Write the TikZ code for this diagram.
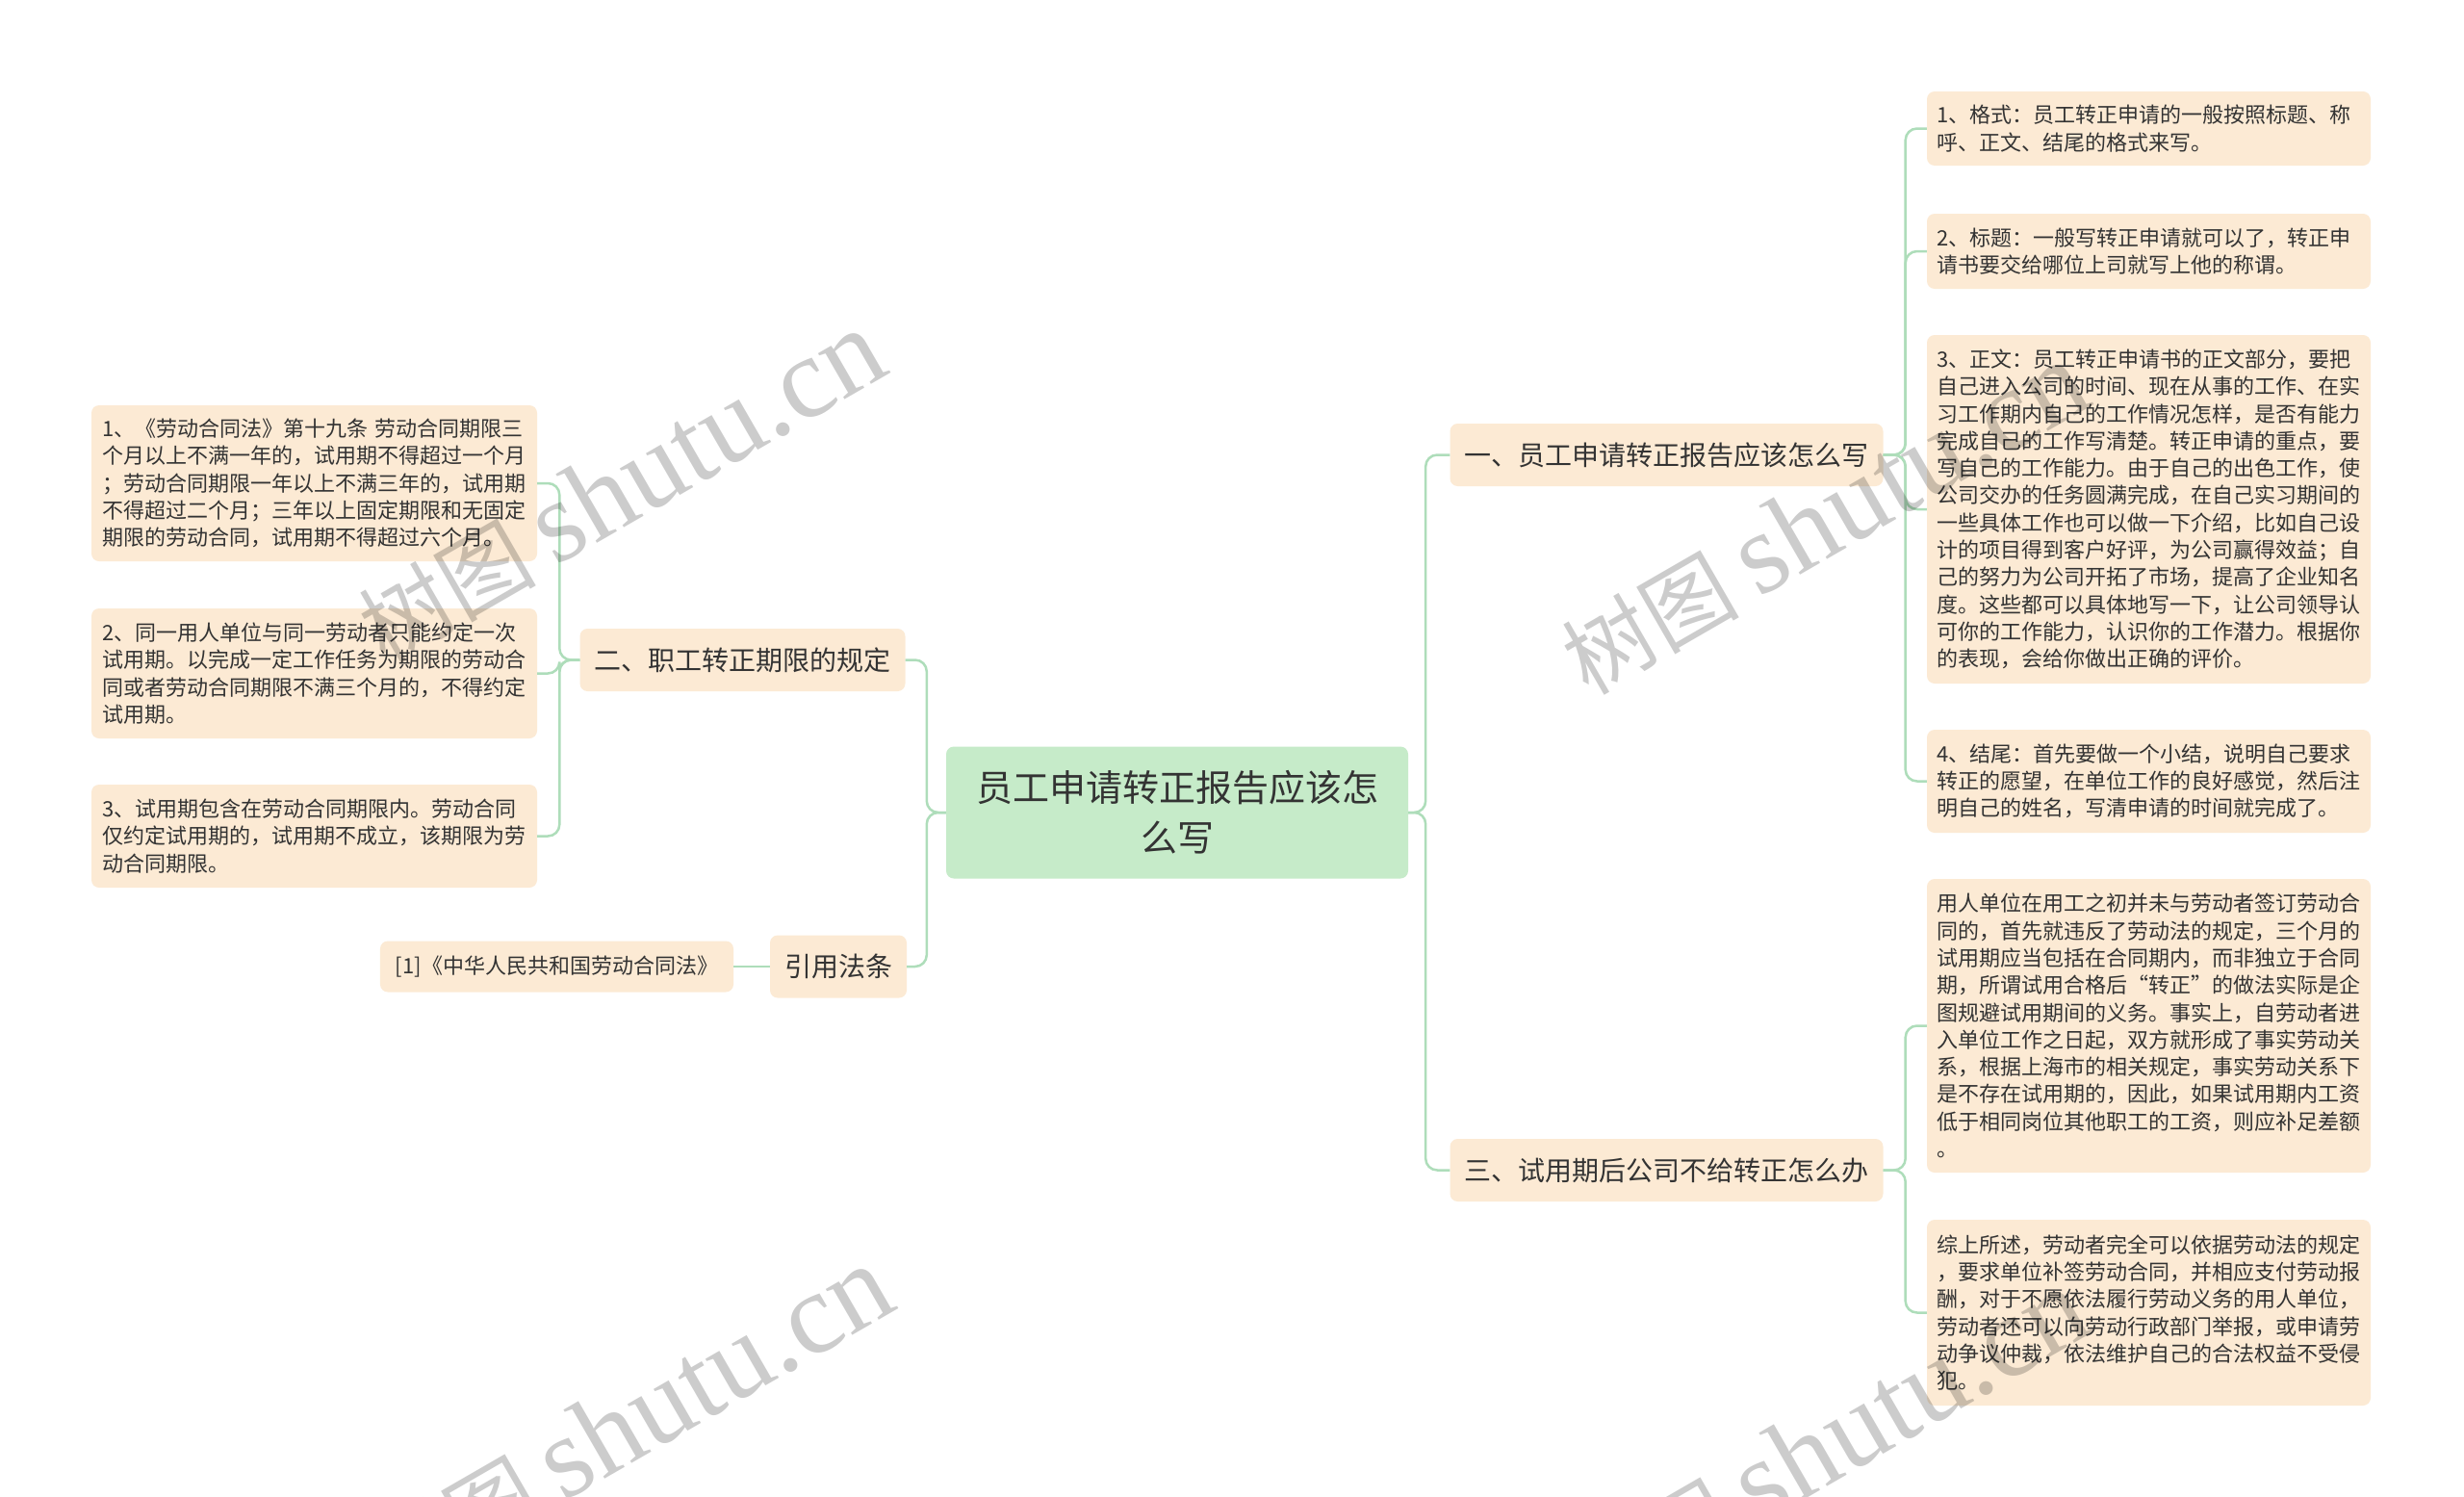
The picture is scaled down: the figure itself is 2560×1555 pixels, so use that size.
\documentclass[tikz,border=0pt]{standalone}
\usepackage{fontspec}
\setmainfont{Noto Sans CJK SC}
\newfontfamily\wmlatin{Liberation Serif}
\definecolor{leaffill}{HTML}{FCEAD4}
\definecolor{rootfill}{HTML}{C6EBC9}
\definecolor{linkc}{HTML}{AEDDBA}
\definecolor{txt}{HTML}{333333}
\begin{document}
\begin{tikzpicture}[x=1pt,y=-1pt,
  box/.style={rounded corners=8pt, fill=leaffill, text=txt, inner sep=0pt},
  rleaf/.style={box, text width=441pt, minimum width=461pt, align=left,
     font=\fontsize{22}{28.3}\selectfont, minimum height=#1},
  lleaf/.style={box, text width=441pt, minimum width=463pt, align=left,
     font=\fontsize{22}{28.3}\selectfont, minimum height=#1},
  midbox/.style={box, font=\fontsize{28}{34}\selectfont, minimum height=65pt, inner xsep=15pt},
  rootbox/.style={rounded corners=8pt, fill=rootfill, text=txt, inner sep=0pt,
     align=center, font=\fontsize{38}{52}\selectfont, minimum width=480pt, minimum height=137pt},
  refbox/.style={box, font=\fontsize{22}{28}\selectfont, minimum height=53pt, inner xsep=16pt},
  link/.style={draw=linkc, line width=2.5pt, rounded corners=12pt},
  wm/.style={rotate=30, text=black, text opacity=0.2, inner sep=0pt}
]
\useasboundingbox (0,0) rectangle (2560,1555);
\fill[white] (0,0) rectangle (2560,1555);

% root
\node[rootbox] (root) at (1223,844) {员工申请转正报告应该怎\\么写};

% level 1
\node[midbox] (n2) at (771.5,685.5) {二、职工转正期限的规定};
\node[midbox] (ref) at (871,1004) {引用法条};
\node[midbox] (r1) at (1731.5,472.5) {一、员工申请转正报告应该怎么写};
\node[midbox] (r3) at (1731.5,1215.5) {三、试用期后公司不给转正怎么办};

% left leaves
\node[lleaf=162pt] (l1) at (326.5,502) {1、《劳动合同法》第十九条 劳动合同期限三\\个月以上不满一年的，试用期不得超过一个月\\；劳动合同期限一年以上不满三年的，试用期\\不得超过二个月；三年以上固定期限和无固定\\期限的劳动合同，试用期不得超过六个月。};
\node[lleaf=135pt] (l2) at (326.5,699.5) {2、同一用人单位与同一劳动者只能约定一次\\试用期。以完成一定工作任务为期限的劳动合\\同或者劳动合同期限不满三个月的，不得约定\\试用期。};
\node[lleaf=107pt] (l3) at (326.5,868.5) {3、试用期包含在劳动合同期限内。劳动合同\\仅约定试用期的，试用期不成立，该期限为劳\\动合同期限。};
\node[refbox] (ref1) at (578.5,1004) {[1]《中华人民共和国劳动合同法》};

% right leaves
\node[rleaf=77pt] (a1) at (2232.5,133.5) {1、格式：员工转正申请的一般按照标题、称\\呼、正文、结尾的格式来写。};
\node[rleaf=78pt] (a2) at (2232.5,261) {2、标题：一般写转正申请就可以了，转正申\\请书要交给哪位上司就写上他的称谓。};
\node[rleaf=362pt] (a3) at (2232.5,529) {3、正文：员工转正申请书的正文部分，要把\\自己进入公司的时间、现在从事的工作、在实\\习工作期内自己的工作情况怎样，是否有能力\\完成自己的工作写清楚。转正申请的重点，要\\写自己的工作能力。由于自己的出色工作，使\\公司交办的任务圆满完成，在自己实习期间的\\一些具体工作也可以做一下介绍，比如自己设\\计的项目得到客户好评，为公司赢得效益；自\\己的努力为公司开拓了市场，提高了企业知名\\度。这些都可以具体地写一下，让公司领导认\\可你的工作能力，认识你的工作潜力。根据你\\的表现，会给你做出正确的评价。};
\node[rleaf=107pt] (a4) at (2232.5,811.5) {4、结尾：首先要做一个小结，说明自己要求\\转正的愿望，在单位工作的良好感觉，然后注\\明自己的姓名，写清申请的时间就完成了。};
\node[rleaf=305pt] (b1) at (2232.5,1065.5) {用人单位在用工之初并未与劳动者签订劳动合\\同的，首先就违反了劳动法的规定，三个月的\\试用期应当包括在合同期内，而非独立于合同\\期，所谓试用合格后“转正”的做法实际是企\\图规避试用期间的义务。事实上，自劳动者进\\入单位工作之日起，双方就形成了事实劳动关\\系，根据上海市的相关规定，事实劳动关系下\\是不存在试用期的，因此，如果试用期内工资\\低于相同岗位其他职工的工资，则应补足差额\\。};
\node[rleaf=193pt] (b2) at (2232.5,1363.5) {综上所述，劳动者完全可以依据劳动法的规定\\，要求单位补签劳动合同，并相应支付劳动报\\酬，对于不愿依法履行劳动义务的用人单位，\\劳动者还可以向劳动行政部门举报，或申请劳\\动争议仲裁，依法维护自己的合法权益不受侵\\犯。};

% connectors
\draw[link] (root.east) -- ++(18,0) |- (r1.west);
\draw[link] (root.east) -- ++(18,0) |- (r3.west);
\draw[link] (root.west) -- ++(-20,0) |- (n2.east);
\draw[link] (root.west) -- ++(-20,0) |- (ref.east);
\draw[link] (n2.west) -- ++(-21,0) |- (l1.east);
\draw[link] (n2.west) -- ++(-21,0) |- (l2.east);
\draw[link] (n2.west) -- ++(-21,0) |- (l3.east);
\draw[link] (ref.west) -- (ref1.east);
\draw[link] (r1.east) -- ++(23,0) |- (a1.west);
\draw[link] (r1.east) -- ++(23,0) |- (a2.west);
\draw[link] (r1.east) -- ++(23,0) |- (a3.west);
\draw[link] (r1.east) -- ++(23,0) |- (a4.west);
\draw[link] (r3.east) -- ++(23,0) |- (b1.west);
\draw[link] (r3.east) -- ++(23,0) |- (b2.west);

% watermarks
\node[wm] (w1) at (645,506) {\fontsize{92}{92}\selectfont 树图 \wmlatin\fontsize{120}{120}\selectfont shutu.cn};
\node[wm] (w2) at (1895,539) {\fontsize{92}{92}\selectfont 树图 \wmlatin\fontsize{120}{120}\selectfont shutu.cn};
\node[wm] (w3) at (653,1478) {\fontsize{92}{92}\selectfont 树图 \wmlatin\fontsize{120}{120}\selectfont shutu.cn};
\node[wm] (w4) at (1895,1502) {\fontsize{92}{92}\selectfont 树图 \wmlatin\fontsize{120}{120}\selectfont shutu.cn};
\end{tikzpicture}
\end{document}
